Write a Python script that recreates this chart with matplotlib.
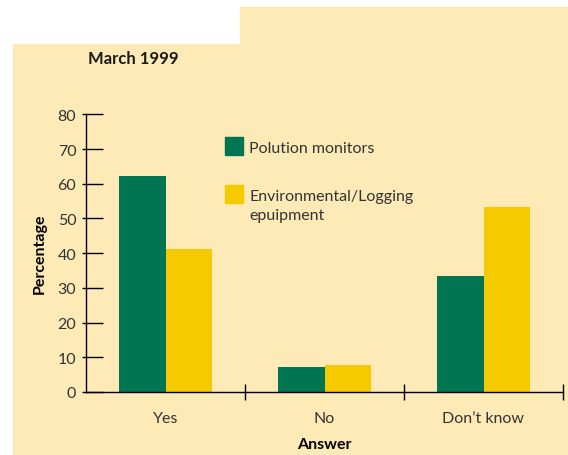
import numpy as np
import matplotlib
matplotlib.use("Agg")
import matplotlib.pyplot as plt
from matplotlib.patches import Rectangle

plt.rcParams['font.family'] = ['Lato', 'DejaVu Sans']

answers = ['Yes', 'No', 'Don\u2019t know']
pollution = [62.2, 7.2, 33.4]
logging = [41.2, 7.8, 53.3]
series_names = ['Polution monitors', 'Environmental/Logging\nepuipment']
yticks = [0, 10, 20, 30, 40, 50, 60, 70, 80]

green = '#007552'
yellow = '#F5CA00'
bg = '#FDEAB6'
text_col = '#333333'
fs = 11.5

fig = plt.figure(figsize=(5.68, 4.56), dpi=100)
fig.patch.set_facecolor('white')

# notched yellow backdrop
W, H = 568, 456
fig.patches.append(Rectangle((13 / W, 0), (W - 13) / W, (H - 45) / H,
                             transform=fig.transFigure, color=bg, zorder=-5))
fig.patches.append(Rectangle((240 / W, 0), (W - 240) / W, (H - 8) / H,
                             transform=fig.transFigure, color=bg, zorder=-5))

ax = fig.add_axes([86 / W, 63 / H, 477 / W, 277.7 / H])
ax.set_zorder(1)
ax.patch.set_alpha(0)

x = np.arange(len(answers)) + 0.5
w = 0.29
ax.bar(x - w / 2, pollution, w, color=green, zorder=2)
ax.bar(x + w / 2, logging, w, color=yellow, zorder=2)

ax.set_xlim(0, 3)
ax.set_ylim(0, 80)
ax.spines['top'].set_visible(False)
ax.spines['right'].set_visible(False)
ax.spines['left'].set_linewidth(1)
ax.spines['bottom'].set_linewidth(1)

ax.set_yticks(yticks)
ax.tick_params(axis='y', which='major', direction='in', length=12, width=1,
               pad=7, labelsize=fs, labelcolor=text_col)
ax.yaxis.remove_overlapping_locs = False
ax.set_yticks(yticks, minor=True)
ax.tick_params(axis='y', which='minor', direction='out', length=3, width=1)

ax.set_xticks([1, 2, 3])
ax.set_xticklabels([])
ax.tick_params(axis='x', which='major', direction='inout', length=12, width=1)
ax.set_xticks(x, minor=True)
ax.set_xticklabels(answers, minor=True)
ax.tick_params(axis='x', which='minor', length=0, pad=13.5, labelsize=fs,
               labelcolor=text_col)

ax.set_ylabel('Percentage', fontsize=fs, fontweight='bold', labelpad=8)
ax.set_xlabel('Answer', fontsize=fs, fontweight='bold', labelpad=9)

fig.text(88 / W, 1 - 59 / H, 'March 1999', fontsize=12, fontweight='bold',
         va='center', ha='left', color='#1a1a1a')

# legend
for i, (name, col) in enumerate(zip(series_names, [green, yellow])):
    top = [138, 186][i]
    fig.patches.append(Rectangle((225 / W, 1 - (top + 17.5) / H), 17.5 / W,
                                 17.5 / H, transform=fig.transFigure,
                                 color=col, zorder=3))
    base = [153, 201.5][i]
    for j, line in enumerate(name.split('\n')):
        fig.text(249 / W, 1 - (base + j * 18.5) / H, line, fontsize=fs,
                 va='baseline', ha='left', color=text_col)

fig.savefig('out.png', dpi=100, facecolor=fig.get_facecolor())
